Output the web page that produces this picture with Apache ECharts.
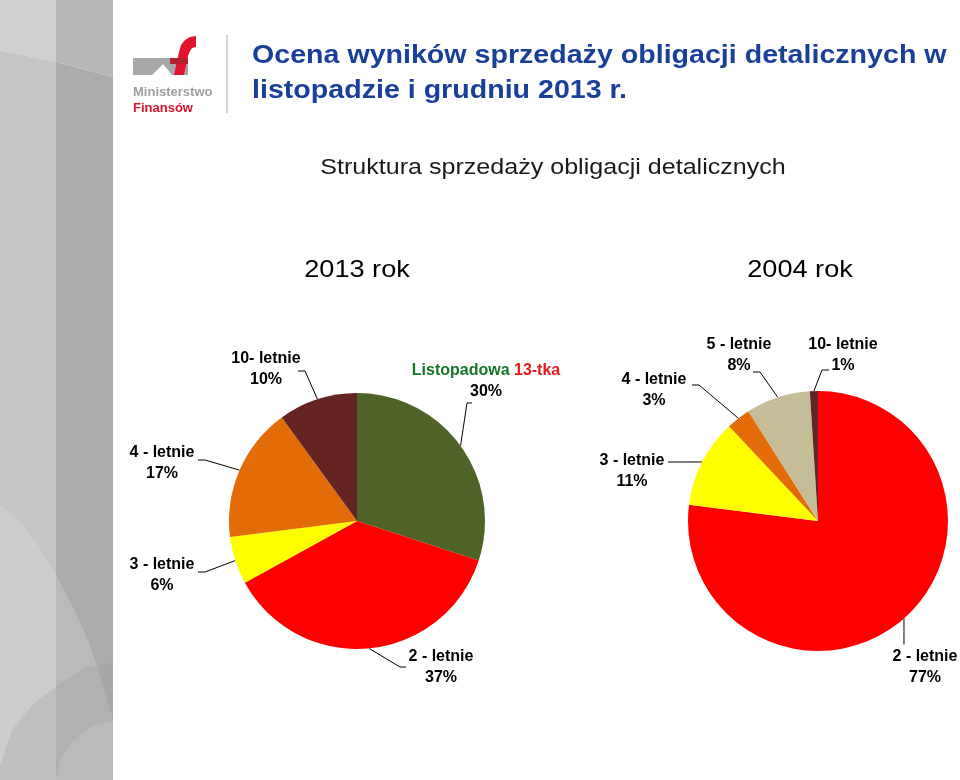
<!DOCTYPE html>
<html>
<head>
<meta charset="utf-8">
<script src="https://cdn.jsdelivr.net/npm/echarts@6/dist/echarts.min.js"></script>
<style>
  html, body { margin: 0; padding: 0; background: #ffffff; }
  #chart { width: 960px; height: 780px; }
</style>
</head>
<body>
<div id="chart"></div>
<script>
// dane
var names2013 = ['Listopadowa 13-tka', '2 - letnie', '3 - letnie', '4 - letnie', '10- letnie'];
var values2013 = [30, 37, 6, 17, 10];
var colors2013 = ['#4F6228', '#FF0000', '#FFFF00', '#E36C09', '#632423'];

var names2004 = ['2 - letnie', '3 - letnie', '4 - letnie', '5 - letnie', '10- letnie'];
var values2004 = [77, 11, 3, 8, 1];
var colors2004 = ['#FF0000', '#FFFF00', '#E36C09', '#C4BD97', '#632423'];

// polozenie etykiet: srodek tekstu, koniec linii przy tekscie, zalamanie linii
var labelPos2013 = [
    {x: 486, y: 381, end: [472, 403], elbow: [467, 403]},
    {x: 441, y: 667, end: [406, 667], elbow: [400, 667]},
    {x: 162, y: 575, end: [198, 572], elbow: [205, 572]},
    {x: 162, y: 463, end: [198, 460], elbow: [205, 460]},
    {x: 266, y: 369, end: [298, 371], elbow: [305, 371]}
];
var labelPos2004 = [
    {x: 925, y: 667, end: null, elbow: null},
    {x: 632, y: 471, end: [668, 462], elbow: [674, 462]},
    {x: 654, y: 390, end: [692, 385], elbow: [699, 385]},
    {x: 739, y: 355, end: [753, 372], elbow: [760, 372]},
    {x: 843, y: 355, end: [829, 370], elbow: [822, 370]}
];

function toData(names, values, colors) {
    return names.map(function (n, i) {
        return {name: n, value: values[i], itemStyle: {color: colors[i]}};
    });
}

function makeLayout(pos) {
    return function (params) {
        var p = pos[params.dataIndex];
        var anchor = params.labelLinePoints[0];
        var pts;
        if (p.end) {
            pts = [anchor, p.elbow, p.end];
        } else {
            // linia pionowa w dol od krawedzi kola
            pts = [anchor, [anchor[0], anchor[1] + 13], [anchor[0], anchor[1] + 26]];
        }
        return {
            x: p.x,
            y: p.y,
            align: 'center',
            verticalAlign: 'middle',
            labelLinePoints: pts
        };
    };
}

var FONT = 'Liberation Sans, Arial, sans-serif';

var labelStyle = {
    show: true,
    position: 'outside',
    color: '#000',
    fontFamily: FONT,
    fontWeight: 'bold',
    fontSize: 16,
    lineHeight: 21,
    align: 'center',
    formatter: function (p) {
        if (p.name === 'Listopadowa 13-tka') {
            return '{g|Listopadowa} {r|13-tka}\n' + p.value + '%';
        }
        return p.name + '\n' + p.value + '%';
    },
    rich: {
        g: {color: '#17752A', fontWeight: 'bold', fontSize: 16, fontFamily: FONT},
        r: {color: '#E3191B', fontWeight: 'bold', fontSize: 16, fontFamily: FONT}
    }
};

var chart = echarts.init(document.getElementById('chart'));

var option = {
    backgroundColor: '#ffffff',
    animation: false,
    graphic: [
        // pasek z lewej
        {type: 'polygon', shape: {points: [[0, 0], [56, 0], [56, 62], [0, 50]]}, style: {fill: '#cfd0d2'}},
        {type: 'polygon', shape: {points: [[56, 0], [113, 0], [113, 77], [56, 62]]}, style: {fill: '#b8b9bb'}},
        {type: 'polygon', shape: {points: [[0, 50], [56, 62], [56, 780], [0, 780]]}, style: {fill: '#c4c5c7'}},
        {type: 'polygon', shape: {points: [[56, 62], [113, 77], [113, 780], [56, 780]]}, style: {fill: '#abacae'}},
        {type: 'polygon', shape: {points: [[0, 505], [20, 522], [38, 545], [56, 575], [56, 780], [0, 780]]}, style: {fill: '#cbcccd'}},
        {type: 'polygon', shape: {points: [[56, 575], [72, 605], [88, 640], [100, 675], [113, 720], [113, 780], [56, 780]]}, style: {fill: '#b9babc'}},
        {type: 'polygon', shape: {points: [[0, 767], [12, 730], [32, 705], [60, 683], [85, 668], [113, 663], [113, 721], [90, 727], [72, 742], [60, 760], [56, 780], [0, 780]]}, style: {fill: 'rgba(150,151,153,0.25)'}},
        // logo
        {type: 'polygon', shape: {points: [[133, 58], [188, 58], [188, 75], [172, 75], [163, 64], [152, 75], [133, 75]]}, style: {fill: '#a7a8aa'}},
        {type: 'polygon', shape: {points: [[174, 75], [179, 52], [181, 45], [185, 40], [190, 37], [196, 36], [196, 47], [192, 48], [190, 51], [188, 56], [184, 75]]}, style: {fill: '#E2142D'}},
        {type: 'rect', shape: {x: 170, y: 58, width: 18, height: 6}, style: {fill: '#B3202E'}},
        {type: 'text', left: 133, top: 86, style: {text: 'Ministerstwo', fill: '#9d9ea0', font: 'bold 13px ' + FONT}},
        {type: 'text', left: 133, top: 102, style: {text: 'Finansów', fill: '#d6132a', font: 'bold 13px ' + FONT}},
        {type: 'line', shape: {x1: 227, y1: 35, x2: 227, y2: 113}, style: {stroke: '#c6c6c6', lineWidth: 1.5}},
        // tytuly
        {type: 'text', x: 252, y: 38, scaleX: 1.1, style: {text: 'Ocena wyników sprzedaży obligacji detalicznych w\nlistopadzie i grudniu 2013 r.', fill: '#1a3f9a', font: 'bold 26px ' + FONT, lineHeight: 35, align: 'left', verticalAlign: 'top'}},
        {type: 'text', x: 553, y: 168, scaleX: 1.14, style: {text: 'Struktura sprzedaży obligacji detalicznych', fill: '#1a1a1a', font: '22px ' + FONT, align: 'center', verticalAlign: 'middle'}},
        {type: 'text', x: 357, y: 270, scaleX: 1.13, style: {text: '2013 rok', fill: '#000', font: '24px ' + FONT, align: 'center', verticalAlign: 'middle'}},
        {type: 'text', x: 800, y: 270, scaleX: 1.13, style: {text: '2004 rok', fill: '#000', font: '24px ' + FONT, align: 'center', verticalAlign: 'middle'}}
    ],
    series: [
        {
            name: '2013 rok',
            type: 'pie',
            center: [357, 521],
            radius: 128,
            startAngle: 90,
            clockwise: true,
            avoidLabelOverlap: false,
            itemStyle: {borderWidth: 0},
            label: labelStyle,
            labelLine: {show: true, length: 10, length2: 10, lineStyle: {color: '#000', width: 1}},
            labelLayout: makeLayout(labelPos2013),
            emphasis: {disabled: true},
            data: toData(names2013, values2013, colors2013)
        },
        {
            name: '2004 rok',
            type: 'pie',
            center: [818, 521],
            radius: 130,
            startAngle: 90,
            clockwise: true,
            avoidLabelOverlap: false,
            itemStyle: {borderWidth: 0},
            label: labelStyle,
            labelLine: {show: true, length: 10, length2: 10, lineStyle: {color: '#000', width: 1}},
            labelLayout: makeLayout(labelPos2004),
            emphasis: {disabled: true},
            data: toData(names2004, values2004, colors2004)
        }
    ]
};

chart.setOption(option);
</script>
</body>
</html>
